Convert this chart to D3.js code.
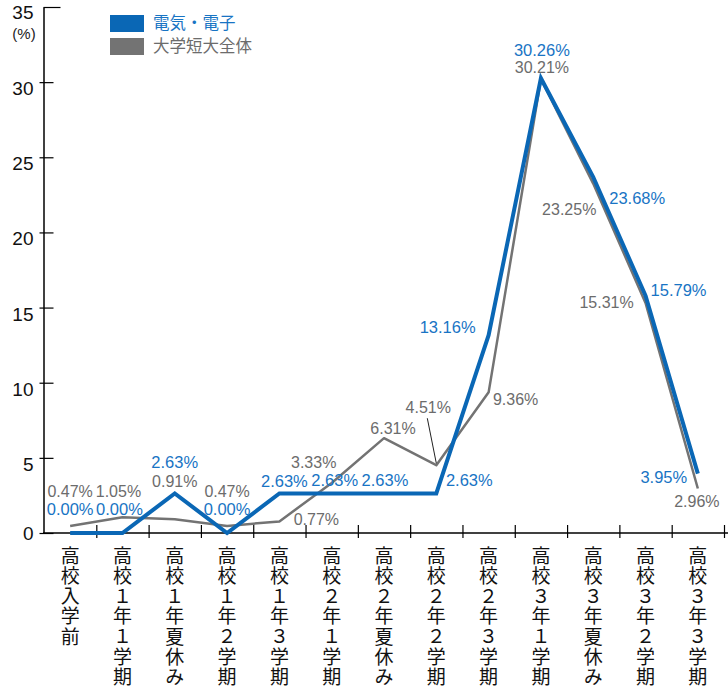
<!DOCTYPE html>
<html>
<head>
<meta charset="utf-8">
<script src="https://cdn.jsdelivr.net/npm/d3@7"></script>
<style>
  body { margin: 0; background: #fff; }
  svg { font-family: "Liberation Sans", Arial, "Noto Sans CJK JP", sans-serif; }
  .jp { font-family: "Noto Sans CJK JP", sans-serif; }
  .vert { writing-mode: vertical-rl; text-orientation: upright; }
</style>
</head>
<body>
<div id="chart"></div>
<script>
const categories = ['高校入学前', '高校１年１学期', '高校１年夏休み', '高校１年２学期', '高校１年３学期',
  '高校２年１学期', '高校２年夏休み', '高校２年２学期', '高校２年３学期', '高校３年１学期',
  '高校３年夏休み', '高校３年２学期', '高校３年３学期'];
const seriesNames = ['電気・電子', '大学短大全体'];
const denki = [0.00, 0.00, 2.63, 0.00, 2.63, 2.63, 2.63, 2.63, 13.16, 30.26, 23.68, 15.79, 3.95];
const zentai = [0.47, 1.05, 0.91, 0.47, 0.77, 3.33, 6.31, 4.51, 9.36, 30.21, 23.25, 15.31, 2.96];
const yTicks = [0, 5, 10, 15, 20, 25, 30, 35];

// label offsets from each point (layout only)
const denkiLabelOff = [[0, -18], [-3, -18], [0, -25], [0, -18], [5, -6], [3, -7], [1, -7],
  [33, -7], [-41, -2], [1, -22], [44, 27], [33, 0], [-34, 9]];
const zentaiLabelOff = [[0, -29], [-4, -20], [0, -32], [0, -29], [37, 4], [-18, -15], [9, -4],
  [-8, -52], [27, 13], [1, -6], [-24, 31], [-39, 5], [-1, 18]];

const width = 728, height = 692;
const blue = '#0a67b5', blueText = '#1874c4';
const gray = '#737373', grayText = '#6c6c6c';

const svg = d3.select('#chart').append('svg')
  .attr('width', width)
  .attr('height', height);

const x = d3.scaleBand().domain(categories).range([44, 724]);
const xEdge = d3.scaleLinear().domain([0, categories.length]).range([44, 724]);
const y = d3.scaleLinear().domain([0, 35]).range([533, 7]);

// y axis
const yAxis = svg.append('g')
  .attr('transform', 'translate(43.5,0)')
  .call(d3.axisLeft(y).tickValues(yTicks).tickSizeInner(-10).tickSizeOuter(0).tickPadding(10));
yAxis.select('.domain').attr('stroke', '#000').attr('stroke-width', 1.5);
yAxis.selectAll('.tick line').attr('x1', -4).attr('stroke-width', 1.2)
  .filter(d => d === 35).attr('x1', 0).attr('x2', 17);
yAxis.selectAll('.tick text')
  .attr('font-size', 19).attr('fill', '#111')
  .attr('font-family', '"Liberation Sans", Arial, sans-serif')
  .attr('dy', d => d === 0 ? '0.35em' : '0.66em');
yAxis.selectAll('.tick text').filter(d => d === 35).attr('dy', '0.6em');

svg.append('text')
  .attr('x', 24).attr('y', 39)
  .attr('text-anchor', 'middle')
  .attr('font-size', 15)
  .attr('fill', '#222')
  .text('(%)');

// x axis
svg.append('line')
  .attr('x1', 43).attr('x2', width)
  .attr('y1', y(0)).attr('y2', y(0))
  .attr('stroke', '#000').attr('stroke-width', 1.5);

const xAxis = svg.append('g')
  .attr('transform', 'translate(0,' + y(0) + ')')
  .call(d3.axisBottom(xEdge).tickValues(d3.range(1, categories.length + 1)).tickFormat('').tickSizeOuter(0).tickSize(5));
xAxis.select('.domain').remove();
xAxis.selectAll('.tick line').attr('y1', -8).attr('stroke-width', 1.2);

svg.append('g').selectAll('text')
  .data(categories)
  .join('text')
  .attr('class', 'jp vert')
  .attr('x', d => x(d) + x.bandwidth() / 2)
  .attr('y', 546)
  .attr('font-size', 19)
  .attr('letter-spacing', 1.2)
  .attr('fill', '#111')
  .text(d => d);

const cx = (d, i) => x(categories[i]) + x.bandwidth() / 2;

const line = d3.line()
  .x(cx)
  .y(d => y(d));

svg.append('path')
  .datum(zentai)
  .attr('fill', 'none')
  .attr('stroke', gray)
  .attr('stroke-width', 2.5)
  .attr('stroke-linejoin', 'round')
  .attr('d', line);

svg.append('path')
  .datum(denki)
  .attr('fill', 'none')
  .attr('stroke', blue)
  .attr('stroke-width', 4)
  .attr('stroke-linejoin', 'miter')
  .attr('d', line);

// leader for 4.51%
svg.append('line')
  .attr('x1', cx(zentai[7], 7) - 9).attr('y1', y(zentai[7]) - 47)
  .attr('x2', cx(zentai[7], 7)).attr('y2', y(zentai[7]) - 2)
  .attr('stroke', '#222').attr('stroke-width', 1);

svg.append('g').selectAll('text')
  .data(zentai)
  .join('text')
  .attr('x', (d, i) => cx(d, i) + zentaiLabelOff[i][0])
  .attr('y', (d, i) => y(d) + zentaiLabelOff[i][1])
  .attr('text-anchor', 'middle')
  .attr('font-size', 16)
  .attr('fill', grayText)
  .text(d => d.toFixed(2) + '%');

svg.append('g').selectAll('text')
  .data(denki)
  .join('text')
  .attr('x', (d, i) => cx(d, i) + denkiLabelOff[i][0])
  .attr('y', (d, i) => y(d) + denkiLabelOff[i][1])
  .attr('text-anchor', 'middle')
  .attr('font-size', 16.5)
  .attr('fill', blueText)
  .text(d => d.toFixed(2) + '%');

// legend
const legend = svg.append('g');
[blue, gray].forEach((col, i) => {
  legend.append('rect')
    .attr('x', 110).attr('y', 15 + i * 23)
    .attr('width', 34).attr('height', 17)
    .attr('fill', col);
  legend.append('text')
    .attr('class', 'jp')
    .attr('x', 153).attr('y', 29 + i * 23)
    .attr('font-size', 16.5)
    .attr('fill', i === 0 ? blueText : grayText)
    .text(seriesNames[i]);
});
</script>
</body>
</html>
